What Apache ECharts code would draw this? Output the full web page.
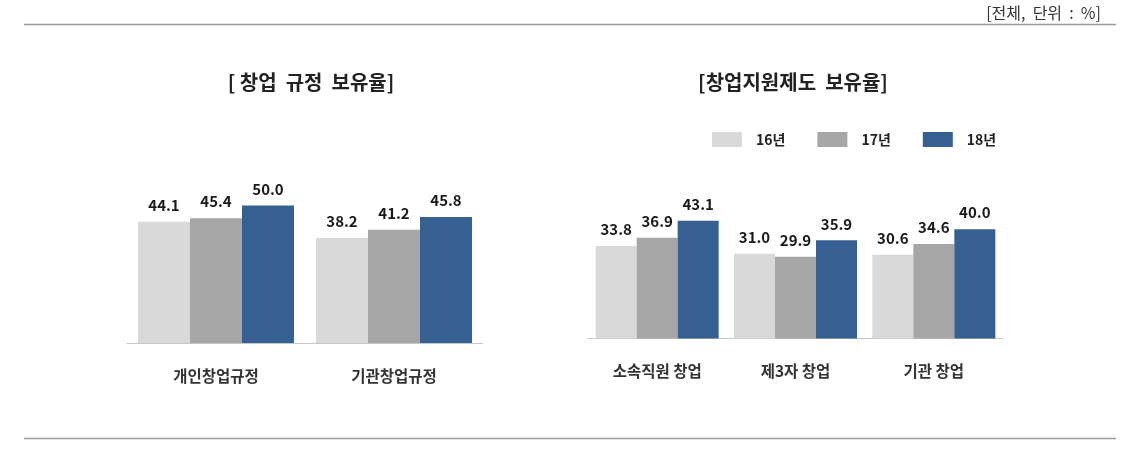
<!DOCTYPE html>
<html>
<head>
<meta charset="utf-8">
<script src="https://cdn.jsdelivr.net/npm/echarts@6/dist/echarts.min.js"></script>
<style>
html,body{margin:0;padding:0;background:#fff;}
#chart{width:1142px;height:459px;}
</style>
</head>
<body>
<div id="chart"></div>
<script>
var years = ['16년', '17년', '18년'];
var colors = ['#d9d9d9', '#a6a6a6', '#376092'];

var leftTitle = '[ 창업  규정  보유율]';
var leftCategories = ['개인창업규정', '기관창업규정'];
var leftValues16 = [44.1, 38.2];
var leftValues17 = [45.4, 41.2];
var leftValues18 = [50.0, 45.8];

var rightTitle = '[창업지원제도  보유율]';
var rightCategories = ['소속직원 창업', '제3자 창업', '기관 창업'];
var rightValues16 = [33.8, 31.0, 30.6];
var rightValues17 = [36.9, 29.9, 34.6];
var rightValues18 = [43.1, 35.9, 40.0];

var unitText = '[전체,  단위  :  %]';

var FONT = "'Noto Sans CJK KR', 'Noto Sans', sans-serif";

var chart = echarts.init(document.getElementById('chart'));

function mkSeries(name, data, idx, color, barWidth) {
  return {
    name: name,
    type: 'bar',
    xAxisIndex: idx,
    yAxisIndex: idx,
    data: data,
    barWidth: barWidth,
    barGap: '0%',
    itemStyle: { color: color },
    label: {
      show: true,
      position: 'top',
      distance: 9,
      fontFamily: FONT,
      fontSize: 15,
      fontWeight: 'bold',
      color: '#1a1a1a',
      formatter: function (p) { return Number(p.value).toFixed(1); }
    }
  };
}

var leftSets = [leftValues16, leftValues17, leftValues18];
var rightSets = [rightValues16, rightValues17, rightValues18];
var series = [];
for (var i = 0; i < 3; i++) series.push(mkSeries(years[i], leftSets[i], 0, colors[i], 52));
for (var j = 0; j < 3; j++) series.push(mkSeries(years[j], rightSets[j], 1, colors[j], 41));

function xAxisCfg(cats, idx) {
  return {
    type: 'category',
    gridIndex: idx,
    data: cats,
    axisTick: { show: false },
    axisLine: { lineStyle: { color: '#c4c8cc', width: 1 } },
    axisLabel: {
      margin: 25,
      fontFamily: FONT,
      fontSize: 15.5,
      fontWeight: 'bold',
      color: '#333'
    }
  };
}
function yAxisCfg(idx) {
  return {
    type: 'value',
    gridIndex: idx,
    min: 0,
    max: 60,
    show: false,
    splitLine: { show: false }
  };
}

var option = {
  backgroundColor: '#fff',
  animation: false,
  title: [
    { text: leftTitle, left: 306, top: 67, textAlign: 'center',
      textStyle: { fontFamily: FONT, fontSize: 20, fontWeight: 'bold', color: '#222' } },
    { text: rightTitle, left: 788, top: 67, textAlign: 'center',
      textStyle: { fontFamily: FONT, fontSize: 20, fontWeight: 'bold', color: '#222' } },
    { text: unitText, right: 36, top: 0,
      textStyle: { fontFamily: FONT, fontSize: 16, fontWeight: 'normal', color: '#333' } }
  ],
  legend: {
    data: years,
    left: 707,
    top: 127,
    itemWidth: 30,
    itemHeight: 15,
    itemGap: 32,
    icon: 'rect',
    textStyle: {
      fontFamily: FONT,
      fontSize: 14,
      fontWeight: 'bold',
      color: '#222',
      padding: [0, 0, 0, 9]
    }
  },
  grid: [
    { left: 127, top: 178, width: 356, height: 165 },
    { left: 588, top: 174.5, width: 415, height: 164 }
  ],
  xAxis: [xAxisCfg(leftCategories, 0), xAxisCfg(rightCategories, 1)],
  yAxis: [yAxisCfg(0), yAxisCfg(1)],
  graphic: [
    { type: 'line', shape: { x1: 24, y1: 24.5, x2: 1116, y2: 24.5 },
      style: { stroke: '#999', lineWidth: 1.5 } },
    { type: 'line', shape: { x1: 24, y1: 438.5, x2: 1116, y2: 438.5 },
      style: { stroke: '#999', lineWidth: 1.5 } }
  ],
  series: series
};
chart.setOption(option);
</script>
</body>
</html>
